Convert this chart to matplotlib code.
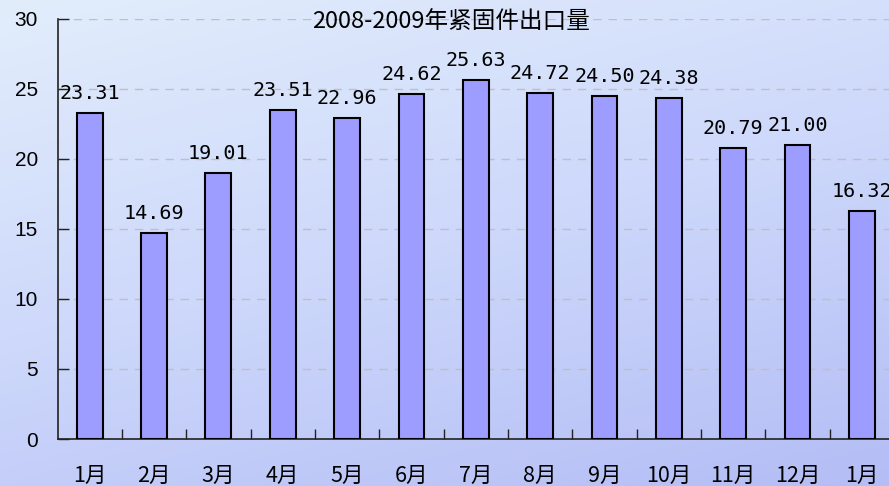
import numpy as np
import matplotlib
matplotlib.use("Agg")
import matplotlib.pyplot as plt
from matplotlib.colors import LinearSegmentedColormap

plt.rcParams['font.family'] = ['Liberation Sans', 'Noto Sans CJK SC', 'DejaVu Sans']

title = "2008-2009年紧固件出口量"
categories = ["1月", "2月", "3月", "4月", "5月", "6月", "7月", "8月", "9月", "10月", "11月", "12月", "1月"]
values = [23.31, 14.69, 19.01, 23.51, 22.96, 24.62, 25.63, 24.72, 24.50, 24.38, 20.79, 21.00, 16.32]
yticks = [0, 5, 10, 15, 20, 25, 30]

W, H = 889, 486
fig = plt.figure(figsize=(W / 100, H / 100), dpi=100)

# background gradient
bg = fig.add_axes([0, 0, 1, 1], zorder=-10)
yy, xx = np.mgrid[0:1:200j, 0:1:300j]
t = 0.75 * yy + 0.35 * xx
cmap = LinearSegmentedColormap.from_list("bg", ["#e2edfc", "#cdd8fb", "#b4bdf5"])
bg.imshow(t, cmap=cmap, aspect="auto", extent=[0, 1, 0, 1], origin="upper", vmin=0, vmax=1.1)
bg.axis("off")

left = 57.5 / W
right = 894 / W
bottom = (H - 439) / H
top = (H - 19) / H
ax = fig.add_axes([left, bottom, right - left, top - bottom])
ax.patch.set_alpha(0)

x = np.arange(len(values))
ax.bar(x, values, width=0.4, color="#9d9dff", edgecolor="black", linewidth=1.5, zorder=3)
ax.set_xlim(-0.5, len(values) - 0.5)
ax.set_ylim(0, 30)
ax.set_yticks(yticks)
ax.set_yticklabels([str(v) for v in yticks], fontsize=15)
ax.yaxis.grid(True, linestyle=(0, (6, 5)), color="#bfbfbf", linewidth=1, zorder=0)
ax.tick_params(axis="y", direction="in", length=8, width=1, pad=14, color="#222222")

ax.set_xticks(x)
ax.set_xticklabels(categories, fontsize=15.5, family=['Noto Sans CJK SC'])
ax.tick_params(axis="x", which="major", length=0, pad=19)
ax.set_xticks(np.arange(len(values) - 1) + 0.5, minor=True)
ax.tick_params(axis="x", which="minor", direction="in", length=7, width=1, color="#222222")

for s in ["top", "right"]:
    ax.spines[s].set_visible(False)
for s in ["left", "bottom"]:
    ax.spines[s].set_color("#222222")
    ax.spines[s].set_linewidth(1.2)

for xi, v in zip(x, values):
    ax.annotate(f"{v:.2f}", (xi, v), xytext=(0, 10), textcoords="offset pixels",
                ha="center", va="bottom", fontsize=14.5, family=["DejaVu Sans Mono"], zorder=4,
                annotation_clip=False)

fig.text(451 / W, 1 - 22 / H, title, ha="center", va="center", fontsize=17,
         family=['Noto Sans CJK SC'])

fig.savefig("out.png", dpi=100)
